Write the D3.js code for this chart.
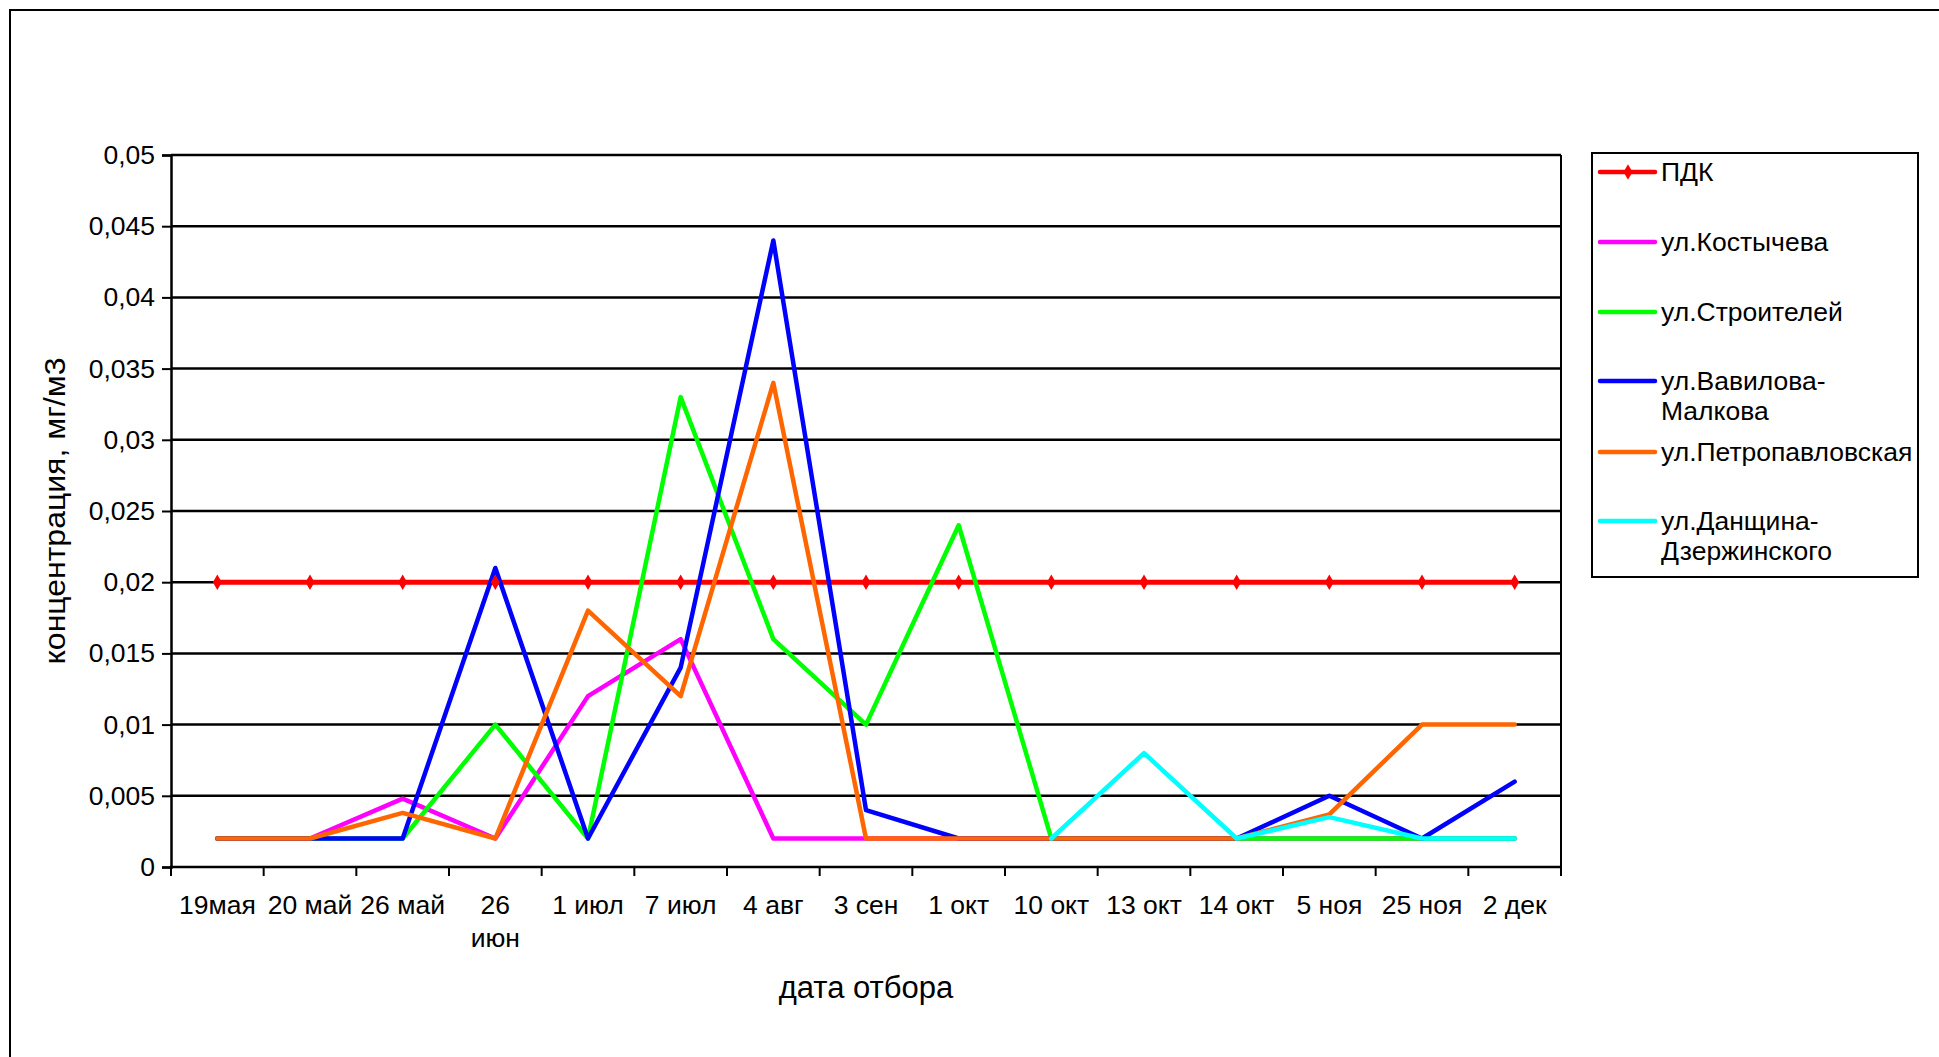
<!DOCTYPE html>
<html><head><meta charset="utf-8">
<script src="https://cdn.jsdelivr.net/npm/d3@7"></script>
<style>
html,body{margin:0;padding:0;background:#fff;overflow:hidden}
svg{display:block;font-family:"Liberation Sans",Arial,sans-serif}
</style></head><body>
<svg id="c" width="1939" height="1057"></svg>
<script>
const categories = ["19мая","20 май","26 май","26 июн","1 июл","7 июл","4 авг","3 сен","1 окт","10 окт","13 окт","14 окт","5 ноя","25 ноя","2 дек"];
const yTicks = [0,0.005,0.01,0.015,0.02,0.025,0.03,0.035,0.04,0.045,0.05];
const yTickLabels = ["0","0,005","0,01","0,015","0,02","0,025","0,03","0,035","0,04","0,045","0,05"];
const seriesNames = ["ПДК","ул.Костычева","ул.Строителей","ул.Вавилова-Малкова","ул.Петропавловская","ул.Данщина-Дзержинского"];
const legendLines = [["ПДК"],["ул.Костычева"],["ул.Строителей"],["ул.Вавилова-","Малкова"],["ул.Петропавловская"],["ул.Данщина-","Дзержинского"]];
const seriesColors = ["#FF0000","#FF00FF","#00FF00","#0000FF","#FF6600","#00FFFF"];
const pdk =            [0.02,0.02,0.02,0.02,0.02,0.02,0.02,0.02,0.02,0.02,0.02,0.02,0.02,0.02,0.02];
const kostycheva =     [0.002,0.002,0.0048,0.002,0.012,0.016,0.002,0.002,0.002,0.002,0.002,0.002,0.002,0.002,0.002];
const stroiteley =     [0.002,0.002,0.002,0.01,0.002,0.033,0.016,0.01,0.024,0.002,0.002,0.002,0.002,0.002,0.002];
const vavilova =       [0.002,0.002,0.002,0.021,0.002,0.014,0.044,0.004,0.002,0.002,0.002,0.002,0.005,0.002,0.006];
const petropavl =      [0.002,0.002,0.0038,0.002,0.018,0.012,0.034,0.002,0.002,0.002,0.002,0.002,0.0037,0.01,0.01];
const danshchina =     [null,null,null,null,null,null,null,null,null,0.002,0.008,0.002,0.0035,0.002,0.002];
const seriesValues = [pdk,kostycheva,stroiteley,vavilova,petropavl,danshchina];
const xTitle = "дата отбора";
const yTitle = "концентрация, мг/м3";

const svg = d3.select("#c");
const L=171, T=155, R=1561, B=867;
const FS = 26.5;

// outer frame
svg.append("rect").attr("x",10).attr("y",10).attr("width",2100).attr("height",1200)
  .attr("fill","none").attr("stroke","#000").attr("stroke-width",2);

const x = d3.scaleBand().domain(categories).range([L,R]).padding(0);
const y = d3.scaleLinear().domain([0,0.05]).range([B,T]);
const cx = c => x(c) + x.bandwidth()/2;

// gridlines
svg.append("g").selectAll("line").data(yTicks.slice(1)).join("line")
  .attr("x1",L).attr("x2",R).attr("y1",d=>y(d)).attr("y2",d=>y(d))
  .attr("stroke","#000").attr("stroke-width",2.5);
// right border
svg.append("line").attr("x1",R).attr("x2",R).attr("y1",T).attr("y2",B).attr("stroke","#000").attr("stroke-width",2);

// y axis
const ya = svg.append("g").attr("transform",`translate(${L},0)`)
  .call(d3.axisLeft(y).tickValues(yTicks).tickSize(9).tickPadding(7).tickFormat((d,i)=>yTickLabels[i]));
ya.select(".domain").attr("stroke","#000").attr("stroke-width",2.5);
ya.selectAll(".tick line").attr("stroke","#000").attr("stroke-width",2);
ya.selectAll(".tick text").attr("font-size",FS).attr("fill","#000").attr("font-family","Liberation Sans, Arial, sans-serif");

// x axis: labels centered, ticks at band boundaries
const xa = svg.append("g").attr("transform",`translate(0,${B})`)
  .call(d3.axisBottom(x).tickSize(0).tickPadding(0));
xa.select(".domain").remove();
xa.selectAll(".tick text").attr("font-size",FS).attr("fill","#000")
  .attr("font-family","Liberation Sans, Arial, sans-serif").attr("dy",null).attr("y",47)
  .each(function(d){
    const t = d3.select(this);
    if (d === "26 июн") {
      t.text(null);
      t.append("tspan").attr("x",0).attr("y",47).text("26");
      t.append("tspan").attr("x",0).attr("y",80).text("июн");
    }
  });
svg.append("line").attr("x1",L-1).attr("x2",R+1).attr("y1",B).attr("y2",B).attr("stroke","#000").attr("stroke-width",2.5);
const bounds = categories.map(c=>x(c)).concat([R]);
svg.append("g").selectAll("line").data(bounds).join("line")
  .attr("x1",d=>d).attr("x2",d=>d).attr("y1",B).attr("y2",B+9).attr("stroke","#000").attr("stroke-width",2);

// series lines
const line = d3.line().defined(d=>d.v!=null).x(d=>cx(d.c)).y(d=>y(d.v));
seriesValues.forEach((vals,i)=>{
  const pts = vals.map((v,j)=>({c:categories[j],v}));
  svg.append("path").datum(pts).attr("d",line).attr("fill","none")
    .attr("stroke",seriesColors[i]).attr("stroke-width",i===0?5:4.5)
    .attr("stroke-linejoin","round").attr("stroke-linecap","round");
});
// PDK diamond markers
const dia = d3.symbol().type(d3.symbolDiamond).size(70);
svg.append("g").selectAll("path").data(pdk.map((v,j)=>({c:categories[j],v}))).join("path")
  .attr("d",dia).attr("transform",d=>`translate(${cx(d.c)},${y(d.v)})`).attr("fill","#FF0000");

// axis titles
svg.append("text").attr("x",(L+R)/2).attr("y",998).attr("text-anchor","middle")
  .attr("font-size",31).attr("fill","#000").text(xTitle);
svg.append("text").attr("transform",`translate(65,${(T+B)/2}) rotate(-90)`).attr("text-anchor","middle")
  .attr("font-size",29).attr("textLength",307).attr("lengthAdjust","spacingAndGlyphs").attr("fill","#000").text(yTitle);

// legend
const lg = svg.append("g");
lg.append("rect").attr("x",1592).attr("y",153).attr("width",326).attr("height",424)
  .attr("fill","#fff").attr("stroke","#000").attr("stroke-width",2);
const ly = [172,242,312,381,452,521];
legendLines.forEach((lines,i)=>{
  const yy = ly[i];
  lg.append("line").attr("x1",1600).attr("x2",1655).attr("y1",yy).attr("y2",yy)
    .attr("stroke",seriesColors[i]).attr("stroke-width",4.5).attr("stroke-linecap","round");
  if(i===0) lg.append("path").attr("d",dia).attr("transform",`translate(1628,${yy})`).attr("fill","#FF0000");
  const t = lg.append("text").attr("font-size",FS).attr("fill","#000");
  lines.forEach((s,k)=>t.append("tspan").attr("x",1661).attr("y",yy+9+k*30).text(s));
});
</script></body></html>
